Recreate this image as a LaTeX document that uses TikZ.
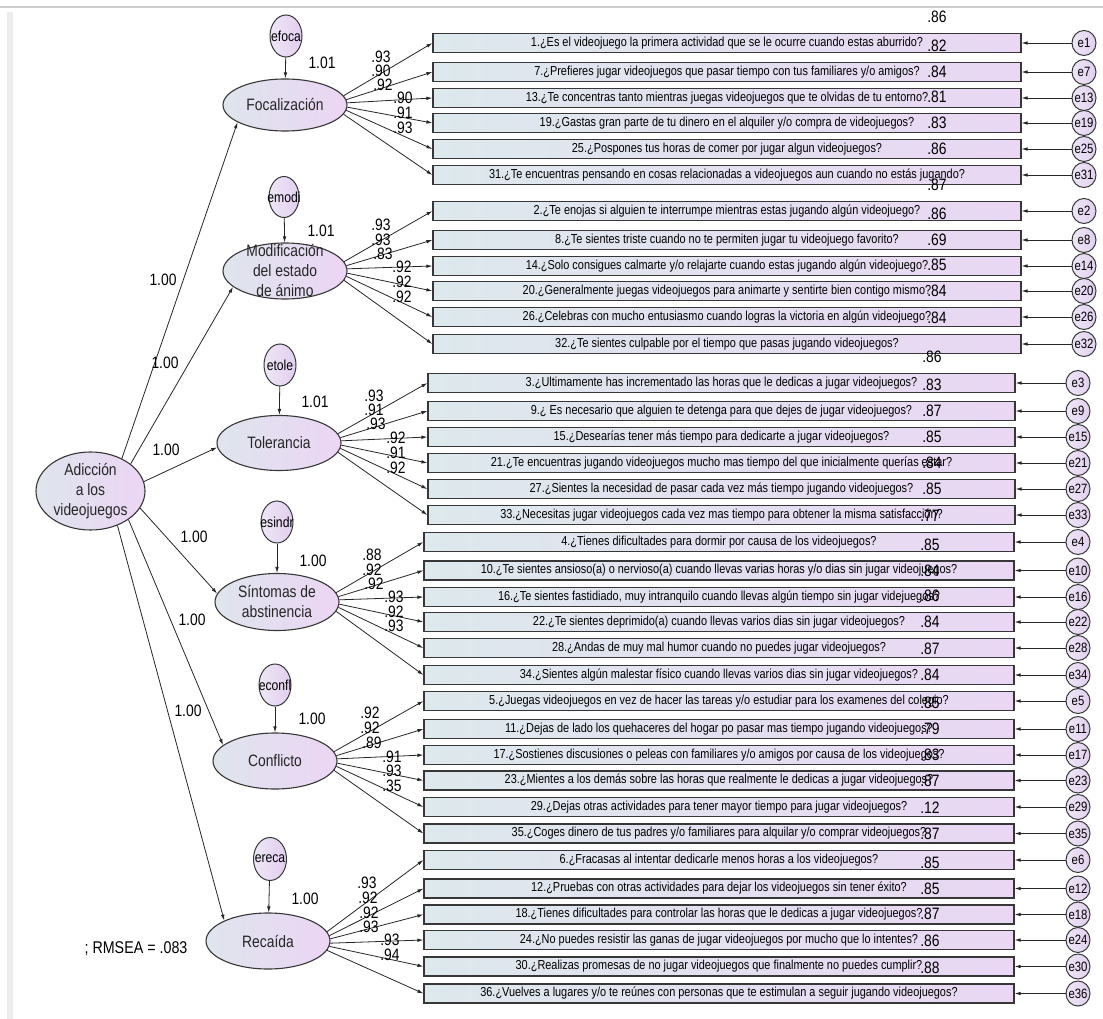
\documentclass[tikz,border=0pt]{standalone}
\usepackage{fontspec}
\setmainfont{Liberation Sans}[FakeStretch=0.84]
\usetikzlibrary{shapes.geometric,arrows.meta}
\definecolor{boxL}{RGB}{221,233,236}
\definecolor{boxR}{RGB}{233,215,243}
\definecolor{latL}{RGB}{222,229,237}
\definecolor{latR}{RGB}{236,213,244}
\definecolor{errL}{RGB}{238,230,246}
\definecolor{errR}{RGB}{226,207,239}
\definecolor{edge}{RGB}{55,55,55}
\tikzset{
 ibox/.style={rectangle, draw=edge, line width=1.2pt, minimum height=19pt, inner sep=0pt, left color=boxL, right color=boxR, font=\fontsize{13}{15}\selectfont},
 lat/.style={ellipse, draw=edge, line width=1.1pt, inner sep=0pt, left color=latL, right color=latR},
 latt/.style={font=\fontsize{16.5}{20}\selectfont, align=center, inner sep=0pt, text=black!85},
 err/.style={ellipse, draw=edge, line width=1pt, inner sep=0pt, left color=errL, right color=errR},
 errt/.style={font=\fontsize{13.5}{15}\selectfont, inner sep=0pt},
 etxt/.style={font=\fontsize{14.5}{16}\selectfont, inner sep=0pt},
 num/.style={font=\fontsize{16.5}{18}\selectfont, inner sep=0pt},
 conn/.style={draw=black!85, line width=0.8pt, -{Latex[length=6pt,width=3.6pt]}},
}
\newcommand\qrow[8]{%
 \node[ibox, minimum width=#3] (b#1) at (#2,#4) {#5};
 \node[err, minimum width=24pt, minimum height=25pt] (e#1) at (#6,#4) {};
 \node[errt] (e#1t) at (e#1) {e#1};
 \node[num] (r#1) at (#8,#4-26) {#7};
 \draw[conn] (e#1) -- (b#1.east);
}
\newcommand\qa[4]{\qrow{#1}{727}{588pt}{#2}{#3}{1084}{#4}{937}}
\newcommand\qb[4]{\qrow{#1}{721.5}{587pt}{#2}{#3}{1078}{#4}{932}}
\newcommand\qc[4]{\qrow{#1}{719}{590pt}{#2}{#3}{1078}{#4}{930}}
\begin{document}
\begin{tikzpicture}[x=1pt,y=-1pt]
\useasboundingbox (0,0) rectangle (1103,1019);
\fill[white] (0,0) rectangle (1103,1019);
\fill[black!7] (7,12) rectangle (13,1019);
\draw[black!20, line width=1.5pt] (0,7) -- (1103,7);

% latent variables
\node[lat, minimum width=124pt, minimum height=52pt] (foc) at (285,105) {};
\node[latt] (foct) at (foc) {Focalización};
\node[lat, minimum width=124pt, minimum height=56pt] (modi) at (285,271) {};
\node[latt] (modit) at (modi) {Modificación\\del estado\\de ánimo};
\node[lat, minimum width=124pt, minimum height=55pt] (tole) at (279,443) {};
\node[latt] (tolet) at (tole) {Tolerancia};
\node[lat, minimum width=124pt, minimum height=57pt] (sint) at (277,602) {};
\node[latt] (sintt) at (sint) {Síntomas de\\abstinencia};
\node[lat, minimum width=124pt, minimum height=56pt] (conf) at (275,761) {};
\node[latt] (conft) at (conf) {Conflicto};
\node[lat, minimum width=124pt, minimum height=56pt] (reca) at (268,941) {};
\node[latt] (recat) at (reca) {Recaída};
\node[lat, minimum width=109pt, minimum height=78pt] (adic) at (90.5,491) {};
\node[latt] (adict) at (adic) {Adicción\\a los\\videojuegos};

% disturbances
\node[err, minimum width=32pt, minimum height=42pt] (efoca) at (286,36) {};
\node[etxt] (efocat) at (efoca) {efoca};
\node[err, minimum width=30pt, minimum height=41pt] (emodi) at (284,197) {};
\node[etxt] (emodit) at (emodi) {emodi};
\node[err, minimum width=32pt, minimum height=42pt] (etole) at (280,365) {};
\node[etxt] (etolet) at (etole) {etole};
\node[err, minimum width=32pt, minimum height=42pt] (esindr) at (277,522) {};
\node[etxt] (esindrt) at (esindr) {esindr};
\node[err, minimum width=32pt, minimum height=42pt] (econfl) at (275,685) {};
\node[etxt] (econflt) at (econfl) {econfl};
\node[err, minimum width=33pt, minimum height=43pt] (ereca) at (270,859) {};
\node[etxt] (erecat) at (ereca) {ereca};
\draw[conn] (efoca) -- (foc);
\draw[conn] (emodi) -- (modi);
\draw[conn] (etole) -- (tole);
\draw[conn] (esindr) -- (sint);
\draw[conn] (econfl) -- (conf);
\draw[conn] (ereca) -- (reca);
\node[num] (vfoc) at (322,63) {1.01};
\node[num] (vmodi) at (321,231) {1.01};
\node[num] (vtole) at (315,402) {1.01};
\node[num] (vsint) at (313,561) {1.00};
\node[num] (vconf) at (312,719) {1.00};
\node[num] (vreca) at (305,899) {1.00};

% second-order paths
\draw[conn] (adic.46) -- (foc.200);
\draw[conn] (adic.34) -- (modi.197);
\draw[conn] (adic.10) -- (tole.184);
\draw[conn] (adic.-19) -- (sint.172);
\draw[conn] (adic.-37) -- (conf.163);
\draw[conn] (adic.-52) -- (reca.155);
\node[num] (pfoc) at (163,280) {1.00};
\node[num] (pmodi) at (165,363) {1.00};
\node[num] (ptole) at (166,450) {1.00};
\node[num] (psint) at (194,537) {1.00};
\node[num] (pconf) at (192,620) {1.00};
\node[num] (preca) at (188,711) {1.00};

% items
\qa{1}{43}{1.¿Es el videojuego la primera actividad que se le ocurre cuando estas aburrido?}{.86}
\qa{7}{72}{7.¿Prefieres jugar videojuegos que pasar tiempo con tus familiares y/o amigos?}{.82}
\qa{13}{98}{13.¿Te concentras tanto mientras juegas videojuegos que te olvidas de tu entorno?}{.84}
\qa{19}{123}{19.¿Gastas gran parte de tu dinero en el alquiler y/o compra de videojuegos?}{.81}
\qa{25}{149}{25.¿Pospones tus horas de comer por jugar algun videojuegos?}{.83}
\qa{31}{175}{31.¿Te encuentras pensando en cosas relacionadas a videojuegos aun cuando no estás jugando?}{.86}
\qa{2}{211}{2.¿Te enojas si alguien te interrumpe mientras estas jugando algún videojuego?}{.87}
\qa{8}{240}{8.¿Te sientes triste cuando no te permiten jugar tu videojuego favorito?}{.86}
\qa{14}{266}{14.¿Solo consigues calmarte y/o relajarte cuando estas jugando algún videojuego?}{.69}
\qa{20}{291}{20.¿Generalmente juegas videojuegos para animarte y sentirte bien contigo mismo?}{.85}
\qa{26}{317}{26.¿Celebras con mucho entusiasmo cuando logras la victoria en algún videojuego?}{.84}
\qa{32}{344}{32.¿Te sientes culpable por el tiempo que pasas jugando videojuegos?}{.84}
\qb{3}{383}{3.¿Ultimamente has incrementado las horas que le dedicas a jugar videojuegos?}{.86}
\qb{9}{411}{9.¿ Es necesario que alguien te detenga para que dejes de jugar videojuegos?}{.83}
\qb{15}{437}{15.¿Desearías tener más tiempo para dedicarte a jugar videojuegos?}{.87}
\qb{21}{463}{21.¿Te encuentras jugando videojuegos mucho mas tiempo del que inicialmente querías estar?}{.85}
\qb{27}{489}{27.¿Sientes la necesidad de pasar cada vez más tiempo jugando videojuegos?}{.84}
\qb{33}{515}{33.¿Necesitas jugar videojuegos cada vez mas tiempo para obtener la misma satisfacción?}{.85}
\qc{4}{542}{4.¿Tienes dificultades para dormir por causa de los videojuegos?}{.77}
\qc{10}{570.5}{10.¿Te sientes ansioso(a) o nervioso(a) cuando llevas varias horas y/o dias sin jugar videojuegos?}{.85}
\qc{16}{597}{16.¿Te sientes fastidiado, muy intranquilo cuando llevas algún tiempo sin jugar videjuegos?}{.84}
\qc{22}{622}{22.¿Te sientes deprimido(a) cuando llevas varios dias sin jugar videojuegos?}{.86}
\qc{28}{648}{28.¿Andas de muy mal humor cuando no puedes jugar videojuegos?}{.84}
\qc{34}{675}{34.¿Sientes algún malestar físico cuando llevas varios dias sin jugar videojuegos?}{.87}
\qc{5}{701}{5.¿Juegas videojuegos en vez de hacer las tareas y/o estudiar para los examenes del colegio?}{.84}
\qc{11}{729}{11.¿Dejas de lado los quehaceres del hogar po pasar mas tiempo jugando videojuegos?}{.85}
\qc{17}{755}{17.¿Sostienes discusiones o peleas con familiares y/o amigos por causa de los videojuegos?}{.79}
\qc{23}{780.5}{23.¿Mientes a los demás sobre las horas que realmente le dedicas a jugar videojuegos?}{.83}
\qc{29}{807}{29.¿Dejas otras actividades para tener mayor tiempo para jugar videojuegos?}{.87}
\qc{35}{833.5}{35.¿Coges dinero de tus padres y/o familiares para alquilar y/o comprar videojuegos?}{.12}
\qc{6}{860}{6.¿Fracasas al intentar dedicarle menos horas a los videojuegos?}{.87}
\qc{12}{888.5}{12.¿Pruebas con otras actividades para dejar los videojuegos sin tener éxito?}{.85}
\qc{18}{914.5}{18.¿Tienes dificultades para controlar las horas que le dedicas a jugar videojuegos?}{.85}
\qc{24}{940}{24.¿No puedes resistir las ganas de jugar videojuegos por mucho que lo intentes?}{.87}
\qc{30}{966.5}{30.¿Realizas promesas de no jugar videojuegos que finalmente no puedes cumplir?}{.86}
\qc{36}{993.5}{36.¿Vuelves a lugares y/o te reúnes con personas que te estimulan a seguir jugando videojuegos?}{.88}

% loadings
\draw[conn] (foc.9) -- (b1.west);
\draw[conn] (foc.5) -- (b7.west);
\draw[conn] (foc.2) -- (b13.west);
\draw[conn] (foc.-2) -- (b19.west);
\draw[conn] (foc.-5) -- (b25.west);
\draw[conn] (foc.-9) -- (b31.west);
\draw[conn] (modi.9) -- (b2.west);
\draw[conn] (modi.5) -- (b8.west);
\draw[conn] (modi.2) -- (b14.west);
\draw[conn] (modi.-2) -- (b20.west);
\draw[conn] (modi.-5) -- (b26.west);
\draw[conn] (modi.-9) -- (b32.west);
\draw[conn] (tole.9) -- (b3.west);
\draw[conn] (tole.5) -- (b9.west);
\draw[conn] (tole.2) -- (b15.west);
\draw[conn] (tole.-2) -- (b21.west);
\draw[conn] (tole.-5) -- (b27.west);
\draw[conn] (tole.-9) -- (b33.west);
\draw[conn] (sint.9) -- (b4.west);
\draw[conn] (sint.5) -- (b10.west);
\draw[conn] (sint.2) -- (b16.west);
\draw[conn] (sint.-2) -- (b22.west);
\draw[conn] (sint.-5) -- (b28.west);
\draw[conn] (sint.-9) -- (b34.west);
\draw[conn] (conf.9) -- (b5.west);
\draw[conn] (conf.5) -- (b11.west);
\draw[conn] (conf.2) -- (b17.west);
\draw[conn] (conf.-2) -- (b23.west);
\draw[conn] (conf.-5) -- (b29.west);
\draw[conn] (conf.-9) -- (b35.west);
\draw[conn] (reca.9) -- (b6.west);
\draw[conn] (reca.5) -- (b12.west);
\draw[conn] (reca.2) -- (b18.west);
\draw[conn] (reca.-2) -- (b24.west);
\draw[conn] (reca.-5) -- (b30.west);
\draw[conn] (reca.-9) -- (b36.west);

\node[num] (l1) at (381,57) {.93};
\node[num] (l7) at (381,71) {.90};
\node[num] (l13) at (383,85) {.92};
\node[num] (l19) at (403,98) {.90};
\node[num] (l25) at (403,113) {.91};
\node[num] (l31) at (403,128) {.93};
\node[num] (l2) at (381,225) {.93};
\node[num] (l8) at (381,240) {.93};
\node[num] (l14) at (383,254) {.83};
\node[num] (l20) at (402,267) {.92};
\node[num] (l26) at (402,282) {.92};
\node[num] (l32) at (402,297) {.92};
\node[num] (l3) at (374,396) {.93};
\node[num] (l9) at (374,410) {.91};
\node[num] (l15) at (376,424) {.93};
\node[num] (l21) at (396,438) {.92};
\node[num] (l27) at (396,453) {.91};
\node[num] (l33) at (396,468) {.92};
\node[num] (l4) at (372,555) {.88};
\node[num] (l10) at (372,570) {.92};
\node[num] (l16) at (374,584) {.92};
\node[num] (l22) at (394,597) {.93};
\node[num] (l28) at (394,612) {.92};
\node[num] (l34) at (394,626) {.93};
\node[num] (l5) at (370,713) {.92};
\node[num] (l11) at (370,728) {.92};
\node[num] (l17) at (372,743) {.89};
\node[num] (l23) at (392,757) {.91};
\node[num] (l29) at (392,771) {.93};
\node[num] (l35) at (392,786) {.35};
\node[num] (l6) at (367,883) {.93};
\node[num] (l12) at (368,898) {.92};
\node[num] (l18) at (369,913) {.92};
\node[num] (l24) at (369,927) {.93};
\node[num] (l30) at (390,940) {.93};
\node[num] (l36) at (390,955) {.94};

\node[font=\fontsize{17}{19}\selectfont, inner sep=0pt] (fit) at (136,949) {; RMSEA = .083};
\end{tikzpicture}
\end{document}
